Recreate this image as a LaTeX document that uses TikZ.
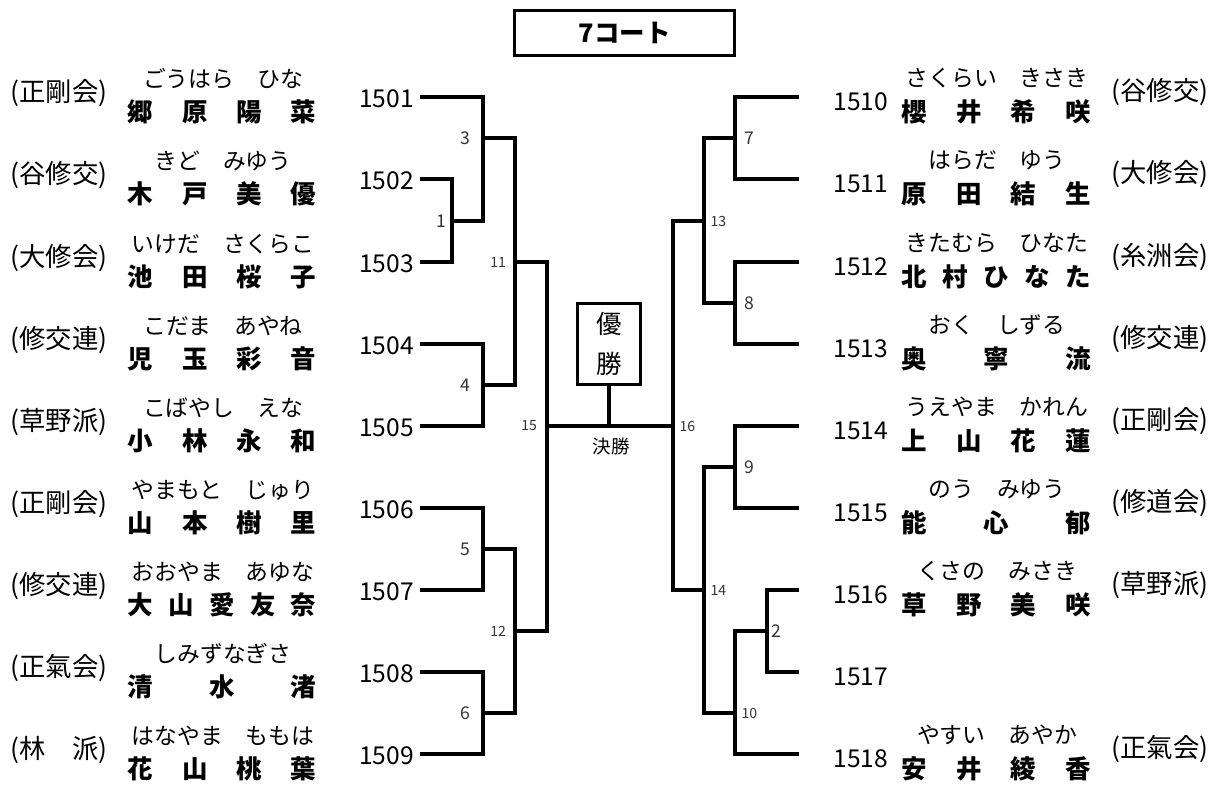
\documentclass[tikz,border=0pt]{standalone}
\usepackage{fontspec}
\setmainfont{Noto Sans CJK JP}
\usetikzlibrary{positioning}
\tikzset{
 bracket/.style={line width=2pt},
 pnum/.style={inner sep=0pt,font=\fontsize{14}{16}\selectfont},
 kana/.style={inner sep=0pt,font=\fontsize{13}{15}\selectfont},
 kanji/.style={inner sep=0pt,font=\fontsize{14.5}{16}\selectfont\bfseries},
 club/.style={inner sep=0pt,font=\fontsize{15}{17}\selectfont},
 mno/.style={inner sep=0pt,text=black!80,font=\fontsize{10}{12}\selectfont},
 mnos/.style={inner sep=0pt,text=black!80,font=\fontsize{8}{10}\selectfont},
}
\newcommand{\wariname}[1]{\makebox[3.78cm][s]{#1}}

\begin{document}
\begin{tikzpicture}[x=0.02cm,y=-0.02cm]
 \useasboundingbox (0,0) rectangle (1213,785);
 \node[draw,line width=2pt,minimum width=4.4cm,minimum height=0.9cm,font=\fontsize{14.5}{16}\selectfont\bfseries] (court) at (624.5,33) {7コート}; %コート名
 %左側の選手
 \foreach \py/\pn/\pk/\pj/\pc in {
   97/1501/ごうはら　ひな/郷\hfill 原\hfill 陽\hfill 菜/(正剛会),
   179/1502/きど　みゆう/木\hfill 戸\hfill 美\hfill 優/(谷修交),
   262/1503/いけだ　さくらこ/池\hfill 田\hfill 桜\hfill 子/(大修会),
   344/1504/こだま　あやね/児\hfill 玉\hfill 彩\hfill 音/(修交連),
   426/1505/こばやし　えな/小\hfill 林\hfill 永\hfill 和/(草野派),
   508/1506/やまもと　じゅり/山\hfill 本\hfill 樹\hfill 里/(正剛会),
   590/1507/おおやま　あゆな/大\hfill 山\hfill 愛\hfill 友\hfill 奈/(修交連),
   672/1508/しみずなぎさ/清\hfill 水\hfill 渚/(正氣会),
   754/1509/はなやま　ももは/花\hfill 山\hfill 桃\hfill 葉/(林　派)}{
  \node[pnum,anchor=east] (n\pn) at (414,\py+2) {\pn};
  \node[kana] (k\pn) at (223,\py-18) {\pk};
  \node[kanji] (j\pn) at (222,\py+15) {\wariname{\pj}};
  \node[club] (c\pn) at (59,\py-4) {\pc};
  \coordinate (s\pn) at (420,\py);
 }
 %右側の選手
 \foreach \py/\pn/\pk/\pj/\pc in {
   97/1510/さくらい　きさき/櫻\hfill 井\hfill 希\hfill 咲/(谷修交),
   179/1511/はらだ　ゆう/原\hfill 田\hfill 結\hfill 生/(大修会),
   262/1512/きたむら　ひなた/北\hfill 村\hfill ひ\hfill な\hfill た/(糸洲会),
   344/1513/おく　しずる/奥\hfill 寧\hfill 流/(修交連),
   426/1514/うえやま　かれん/上\hfill 山\hfill 花\hfill 蓮/(正剛会),
   508/1515/のう　みゆう/能\hfill 心\hfill 郁/(修道会),
   590/1516/くさの　みさき/草\hfill 野\hfill 美\hfill 咲/(草野派),
   754/1518/やすい　あやか/安\hfill 井\hfill 綾\hfill 香/(正氣会)}{
  \node[pnum,anchor=west] (n\pn) at (833,\py+5) {\pn};
  \node[kana] (k\pn) at (997,\py-19) {\pk};
  \node[kanji] (j\pn) at (996,\py+15) {\wariname{\pj}};
  \node[club] (c\pn) at (1160,\py-5) {\pc};
  \coordinate (s\pn) at (799,\py);
 }
 \node[pnum,anchor=west] (n1517) at (833,677) {1517};
 \coordinate (s1517) at (799,672);
 %試合の分岐点
 \coordinate (m1) at (452,221);
 \coordinate (m3) at (483,138);
 \coordinate (m4) at (483,385);
 \coordinate (m5) at (483,549);
 \coordinate (m6) at (483,713);
 \coordinate (m11) at (515,262);
 \coordinate (m12) at (515,631);
 \coordinate (m15) at (547,426);
 \coordinate (m7) at (735,138);
 \coordinate (m8) at (735,303);
 \coordinate (m9) at (735,467);
 \coordinate (m2) at (767,631);
 \coordinate (m10) at (735,713);
 \coordinate (m13) at (704,221);
 \coordinate (m14) at (704,590);
 \coordinate (m16) at (673,426);
 %左ブロック
 \draw[bracket] (s1502) -| (m1) |- (s1503);
 \draw[bracket] (s1501) -| (m3) |- (m1);
 \draw[bracket] (s1504) -| (m4) |- (s1505);
 \draw[bracket] (m3) -| (m11) |- (m4);
 \draw[bracket] (s1506) -| (m5) |- (s1507);
 \draw[bracket] (s1508) -| (m6) |- (s1509);
 \draw[bracket] (m5) -| (m12) |- (m6);
 \draw[bracket] (m11) -| (m15) |- (m12);
 %右ブロック
 \draw[bracket] (s1510) -| (m7) |- (s1511);
 \draw[bracket] (s1512) -| (m8) |- (s1513);
 \draw[bracket] (m7) -| (m13) |- (m8);
 \draw[bracket] (s1514) -| (m9) |- (s1515);
 \draw[bracket] (s1516) -| (m2) |- (s1517);
 \draw[bracket] (m2) -| (m10) |- (s1518);
 \draw[bracket] (m9) -| (m14) |- (m10);
 \draw[bracket] (m13) -| (m16) |- (m14);
 %決勝
 \draw[bracket] (m15) -- (m16);
 \node[draw,line width=2pt,minimum width=1.26cm,minimum height=1.62cm,align=center,font=\fontsize{14.5}{23}\selectfont] (win) at (609,344) {優\\勝};
 \draw[bracket] (win.south) -- (win.south |- m15);
 \node[inner sep=0pt,font=\fontsize{10.5}{12}\selectfont] (kessho) at (611,446) {決勝};
 %試合番号
 \node[mno,left=3pt of m1] (r1) {1};
 \node[mno,left=7pt of m3] (r3) {3};
 \node[mno,left=7pt of m4] (r4) {4};
 \node[mno,left=7pt of m5] (r5) {5};
 \node[mno,left=7pt of m6] (r6) {6};
 \node[mnos,left=5pt of m11] (r11) {11};
 \node[mnos,left=5pt of m12] (r12) {12};
 \node[mnos,left=5.5pt of m15] (r15) {15};
 \node[mno,right=5pt of m7] (r7) {7};
 \node[mno,right=5pt of m8] (r8) {8};
 \node[mno,right=5pt of m9] (r9) {9};
 \node[mno,right=2.5pt of m2] (r2) {2};
 \node[mnos,right=3.5pt of m10] (r10) {10};
 \node[mnos,right=3.5pt of m13] (r13) {13};
 \node[mnos,right=3.5pt of m14] (r14) {14};
 \node[mnos,right=3.5pt of m16] (r16) {16};
\end{tikzpicture}
\end{document}
